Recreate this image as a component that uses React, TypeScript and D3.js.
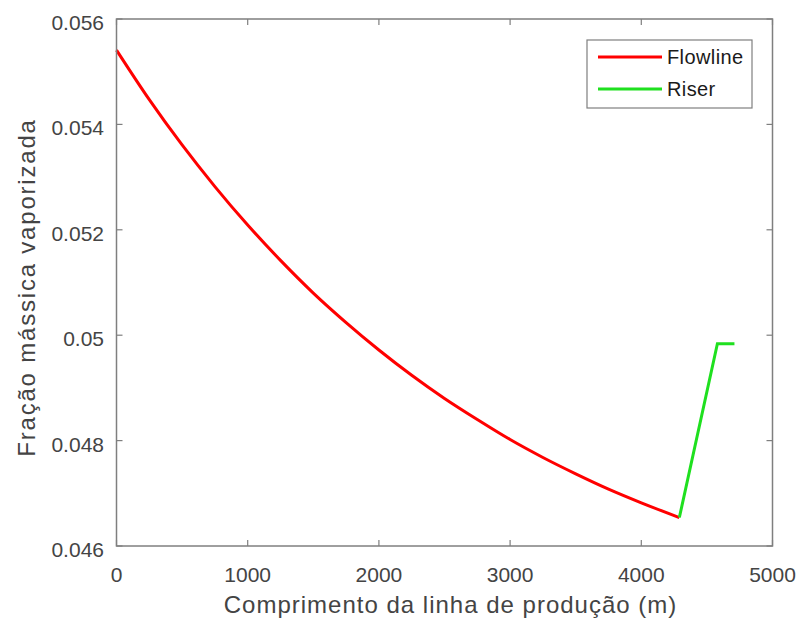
import React from "react";
import * as d3 from "d3";

const flowX = [0, 250, 500, 750, 1000, 1250, 1500, 1750, 2000, 2250, 2500, 2750, 3000, 3250, 3500, 3750, 4000, 4290];
const flowY = [0.05541, 0.05447, 0.05361, 0.05282, 0.05209, 0.05142, 0.0508, 0.05024, 0.04972, 0.04924, 0.0488, 0.0484, 0.04802, 0.04768, 0.04737, 0.04708, 0.04682, 0.04654];
const riserX = [4290, 4580, 4710];
const riserY = [0.04654, 0.04984, 0.04984];
const xTicks = [0, 1000, 2000, 3000, 4000, 5000];
const yTicks = [0.046, 0.048, 0.05, 0.052, 0.054, 0.056];
const yTickLabels = ["0.046", "0.048", "0.05", "0.052", "0.054", "0.056"];
const seriesNames = ["Flowline", "Riser"];
const seriesColors = ["#ff0000", "#1fe01f"];

export default function App() {
  const W = 800, H = 626;
  const L = 116.5, R = 772.5, T = 19, B = 546;
  const x = d3.scaleLinear().domain([0, 5000]).range([L, R]);
  const y = d3.scaleLinear().domain([0.046, 0.056]).range([B, T]);
  const smooth = d3.line<[number, number]>().x(d => x(d[0])).y(d => y(d[1])).curve(d3.curveMonotoneX);
  const straight = d3.line<[number, number]>().x(d => x(d[0])).y(d => y(d[1]));
  const flow = flowX.map((v, i) => [v, flowY[i]] as [number, number]);
  const riser = riserX.map((v, i) => [v, riserY[i]] as [number, number]);
  const axisColor = "#7f7f7f";
  const textColor = "#444";
  const font = "'Liberation Sans', Arial, sans-serif";
  const tl = 6;
  return (
    <svg width={W} height={H} style={{ position: "absolute", left: 0, top: 0, background: "#fff" }} fontFamily={font}>
      <rect x={0} y={0} width={W} height={H} fill="#fff" />
      <path d={smooth(flow) || ""} fill="none" stroke={seriesColors[0]} strokeWidth={3} strokeLinejoin="round" />
      <path d={straight(riser) || ""} fill="none" stroke={seriesColors[1]} strokeWidth={3} strokeLinejoin="miter" />
      <rect x={L} y={T} width={R - L} height={B - T} fill="none" stroke={axisColor} strokeWidth={1.5} />
      {xTicks.map(t => (
        <g key={"x" + t}>
          <line x1={x(t)} x2={x(t)} y1={B} y2={B - tl} stroke={axisColor} strokeWidth={1.2} />
          <line x1={x(t)} x2={x(t)} y1={T} y2={T + tl} stroke={axisColor} strokeWidth={1.2} />
          <text x={x(t)} y={582} textAnchor="middle" fontSize={21} fill={textColor}>{t}</text>
        </g>
      ))}
      {yTicks.map((t, i) => (
        <g key={"y" + t}>
          <line x1={L} x2={L + tl} y1={y(t)} y2={y(t)} stroke={axisColor} strokeWidth={1.2} />
          <line x1={R} x2={R - tl} y1={y(t)} y2={y(t)} stroke={axisColor} strokeWidth={1.2} />
          <text x={104} y={y(t) + 11} textAnchor="end" fontSize={21} fill={textColor}>{yTickLabels[i]}</text>
        </g>
      ))}
      <text x={(L + R) / 2 + 6} y={613} textAnchor="middle" fontSize={24} fill={textColor} letterSpacing={1}>
        Comprimento da linha de produção (m)
      </text>
      <text transform={`translate(35, ${(T + B) / 2 + 5}) rotate(-90)`} textAnchor="middle" fontSize={24} fill={textColor} letterSpacing={1.8}>
        Fração mássica vaporizada
      </text>
      <rect x={587} y={40} width={165} height={68} fill="#fff" stroke={axisColor} strokeWidth={1.2} />
      {seriesNames.map((n, i) => (
        <g key={n}>
          <line x1={598} x2={662} y1={57 + i * 32} y2={57 + i * 32} stroke={seriesColors[i]} strokeWidth={3} />
          <text x={667} y={57 + i * 32 + 7} fontSize={20} fill="#1a1a1a" letterSpacing={0.4}>{n}</text>
        </g>
      ))}
    </svg>
  );
}
